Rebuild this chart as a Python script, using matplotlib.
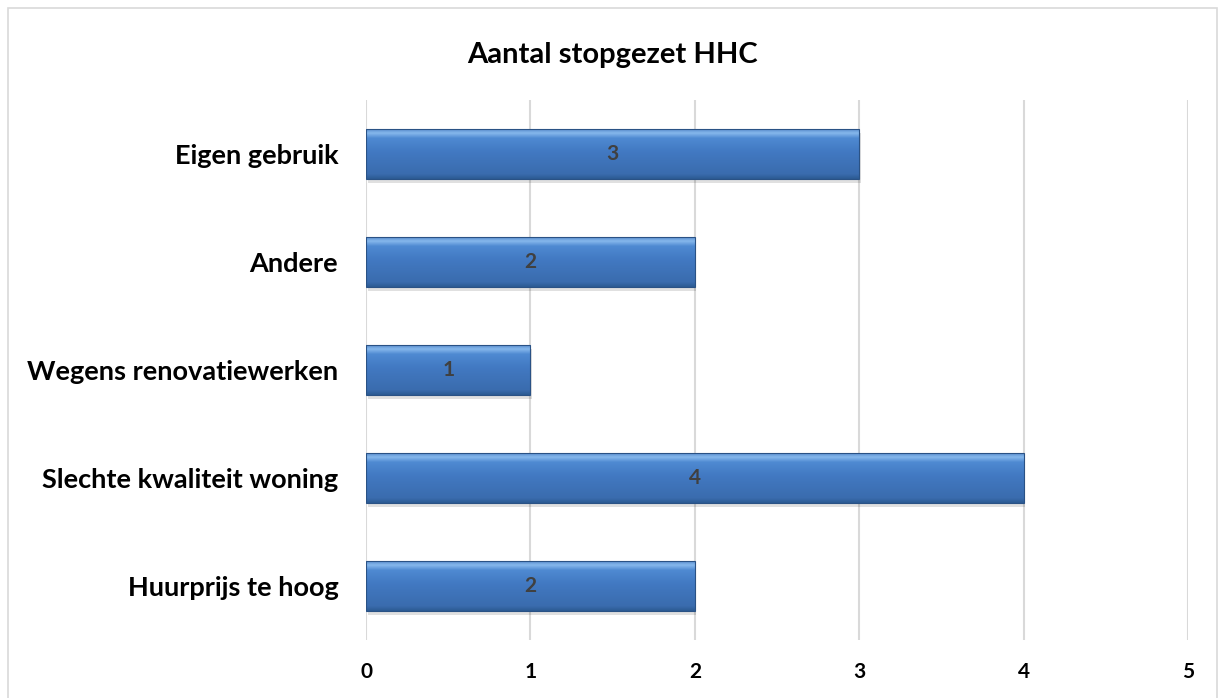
import matplotlib.pyplot as plt
import numpy as np
from matplotlib.patches import Rectangle
from matplotlib.colors import LinearSegmentedColormap

# categories from bottom to top
categories = ["Huurprijs te hoog", "Slechte kwaliteit woning", "Wegens renovatiewerken",
              "Andere", "Eigen gebruik"]
counts = [2, 4, 1, 2, 3]
xticks = [0, 1, 2, 3, 4, 5]

plt.rcParams['font.family'] = ['Lato', 'DejaVu Sans']

fig = plt.figure(figsize=(12.25, 6.98), dpi=100)
ax = fig.add_axes([0.2988, 0.0831, 0.671, 0.7736])

# outer chart border
fig.patches.append(Rectangle((8 / 1225, -0.01), 1209 / 1225, 1 - 8 / 698 + 0.01,
                             transform=fig.transFigure, fill=False,
                             edgecolor='#d9d9d9', linewidth=1.2))

ypos = np.arange(len(categories))
height = 0.46
bars = ax.barh(ypos, counts, height=height, color='#4a7ebf', zorder=3)

# vertical gradient used to shade each bar
grad = np.linspace(0, 1, 256).reshape(-1, 1)
cmap = LinearSegmentedColormap.from_list(
    'bar', [(0.0, '#2c5a92'), (0.1, '#3a6cae'), (0.55, '#4279c2'),
            (0.82, '#4f8ad2'), (0.92, '#86b8ec'), (1.0, '#5b8fd0')])

for bar, y, v in zip(bars, ypos, counts):
    # drop shadow
    ax.add_patch(Rectangle((0.01, y - height / 2 - 0.035), v, height,
                           facecolor='#000000', alpha=0.12, zorder=2, linewidth=0))
    im = ax.imshow(grad, extent=(0, v, y - height / 2, y + height / 2),
                   origin='lower', cmap=cmap, aspect='auto', zorder=4)
    im.set_clip_path(bar)
    ax.add_patch(Rectangle((0, y - height / 2), v, height, fill=False,
                           edgecolor='#2a5285', linewidth=0.8, zorder=5))
    ax.text(v / 2, y, str(v), ha='center', va='center', fontsize=15,
            fontweight='bold', color='#404040', zorder=6)

ax.set_xlim(0, 5)
ax.set_ylim(-0.5, len(categories) - 0.5)
ax.set_xticks(xticks)
ax.set_yticks(ypos)
ax.set_yticklabels(categories, fontsize=19.5, fontweight='bold')
ax.set_xticklabels([str(t) for t in xticks], fontsize=15, fontweight='bold')
ax.tick_params(axis='y', length=0, pad=20)
ax.tick_params(axis='x', length=0, pad=16)
ax.grid(axis='x', color='#d9d9d9', linewidth=1.5, zorder=0)
ax.set_axisbelow(True)
for s in ax.spines.values():
    s.set_visible(False)

fig.text(0.5, 1 - 55 / 698, "Aantal stopgezet HHC", ha='center', va='center',
         fontsize=21, fontweight='bold')

fig.savefig('out.png', dpi=100)
